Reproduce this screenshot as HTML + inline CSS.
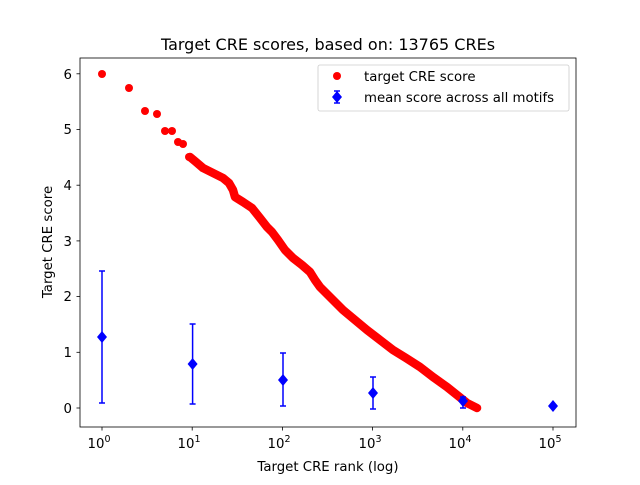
<!DOCTYPE html>
<html><head><meta charset="utf-8"><style>
body{margin:0;background:#fff}
svg text{font-family:"DejaVu Sans","Liberation Sans",sans-serif;font-size:13.3px;fill:#000}
</style></head><body>
<svg width="640" height="480" viewBox="0 0 640 480" xmlns="http://www.w3.org/2000/svg">
<rect width="640" height="480" fill="#fff"/>
<text x="328" y="50" text-anchor="middle" style="font-size:16px">Target CRE scores, based on: 13765 CREs</text>
<polyline fill="none" stroke="#f00" stroke-width="8.5" stroke-linecap="round" stroke-linejoin="round"
points="190,157 196,162 203,168 213,173 223,178 229,183 233,190 235,197 243,202 252,208 260,218 267,227 272,232 278,240 285,250 293,258 302,265 310,272 315,280 320,287 331,298 343,310 355,320 367,330 380,340 393,350 406,358 420,367 433,377 447,387 457,395 467,403 477,408"/>
<g fill="#f00">
<circle cx="102" cy="74" r="4"/><circle cx="129" cy="88" r="4"/><circle cx="145" cy="111" r="4"/>
<circle cx="157" cy="114" r="4"/><circle cx="165" cy="131" r="4"/><circle cx="172" cy="131" r="4"/>
<circle cx="178" cy="142" r="4"/><circle cx="183" cy="144" r="4"/><circle cx="189" cy="157" r="4"/>
</g>
<g stroke="#00f" stroke-width="1.5">
<line x1="102" y1="271" x2="102" y2="403"/><line x1="99" y1="271" x2="105" y2="271"/><line x1="99" y1="403" x2="105" y2="403"/>
<line x1="192.6" y1="324" x2="192.6" y2="404"/><line x1="189.6" y1="324" x2="195.6" y2="324"/><line x1="189.6" y1="404" x2="195.6" y2="404"/>
<line x1="283" y1="353" x2="283" y2="406"/><line x1="280" y1="353" x2="286" y2="353"/><line x1="280" y1="406" x2="286" y2="406"/>
<line x1="373" y1="377" x2="373" y2="409"/><line x1="370" y1="377" x2="376" y2="377"/><line x1="370" y1="409" x2="376" y2="409"/>
<line x1="463" y1="397" x2="463" y2="408"/><line x1="460" y1="397" x2="466" y2="397"/><line x1="460" y1="408" x2="466" y2="408"/>
</g>
<g fill="#00f">
<polygon points="102,331 107,337 102,343 97,337"/>
<polygon points="192.6,358 197.6,364 192.6,370 187.6,364"/>
<polygon points="283,374 288,380 283,386 278,380"/>
<polygon points="373,387 378,393 373,399 368,393"/>
<polygon points="463,395 468,401 463,407 458,401"/>
<polygon points="553,400 558,406 553,412 548,406"/>
</g>
<rect x="80" y="58" width="496" height="369" fill="none" stroke="#000" stroke-width="0.8"/>
<g stroke="#000" stroke-width="0.8">
<line x1="76.5" y1="408" x2="80" y2="408"/><line x1="76.5" y1="352.3" x2="80" y2="352.3"/><line x1="76.5" y1="296.6" x2="80" y2="296.6"/>
<line x1="76.5" y1="240.9" x2="80" y2="240.9"/><line x1="76.5" y1="185.2" x2="80" y2="185.2"/><line x1="76.5" y1="129.5" x2="80" y2="129.5"/><line x1="76.5" y1="73.8" x2="80" y2="73.8"/>
<line x1="102" y1="427" x2="102" y2="430.5"/><line x1="192.2" y1="427" x2="192.2" y2="430.5"/><line x1="282.4" y1="427" x2="282.4" y2="430.5"/>
<line x1="372.6" y1="427" x2="372.6" y2="430.5"/><line x1="462.8" y1="427" x2="462.8" y2="430.5"/><line x1="553" y1="427" x2="553" y2="430.5"/>
</g>
<g stroke="#000" stroke-width="0.6" id="minor"></g>
<g text-anchor="end">
<text x="72" y="413">0</text><text x="72" y="357">1</text><text x="72" y="301">2</text><text x="72" y="246">3</text>
<text x="72" y="190">4</text><text x="72" y="134">5</text><text x="72" y="79">6</text>
</g>
<g text-anchor="middle">
<text x="99" y="448">10<tspan dy="-6" style="font-size:9.5px">0</tspan></text>
<text x="189" y="448">10<tspan dy="-6" style="font-size:9.5px">1</tspan></text>
<text x="279" y="448">10<tspan dy="-6" style="font-size:9.5px">2</tspan></text>
<text x="370" y="448">10<tspan dy="-6" style="font-size:9.5px">3</tspan></text>
<text x="460" y="448">10<tspan dy="-6" style="font-size:9.5px">4</tspan></text>
<text x="550" y="448">10<tspan dy="-6" style="font-size:9.5px">5</tspan></text>
</g>
<text x="328" y="471" text-anchor="middle">Target CRE rank (log)</text>
<text transform="translate(52,242) rotate(-90)" text-anchor="middle">Target CRE score</text>
<rect x="318" y="65" width="251" height="46" rx="2" fill="#fff" stroke="#ccc" stroke-width="0.8"/>
<circle cx="337" cy="76" r="4" fill="#f00"/>
<text x="364" y="81">target CRE score</text>
<line x1="337" y1="91" x2="337" y2="103" stroke="#00f" stroke-width="1.5"/>
<line x1="334" y1="91" x2="340" y2="91" stroke="#00f" stroke-width="1.5"/>
<line x1="334" y1="103" x2="340" y2="103" stroke="#00f" stroke-width="1.5"/>
<polygon points="337,91 342,97 337,103 332,97" fill="#00f"/>
<text x="364" y="102">mean score across all motifs</text>
<script>
var g=document.getElementById('minor'),s='';
for(var d=0;d<5;d++)for(var k=2;k<10;k++){var x=102+90.2*(d+Math.log10(k));s+='<line x1="'+x+'" y1="427" x2="'+x+'" y2="429" />';}
for(var k=2;k<10;k++){var x=102-90.2*(1-Math.log10(k));if(x>80)s+='<line x1="'+x+'" y1="427" x2="'+x+'" y2="429" />';}
for(var k=2;k<3;k++){var x=553+90.2*Math.log10(k);if(x<576)s+='<line x1="'+x+'" y1="427" x2="'+x+'" y2="429" />';}
g.innerHTML=s;
</script>
</svg>
</body></html>
